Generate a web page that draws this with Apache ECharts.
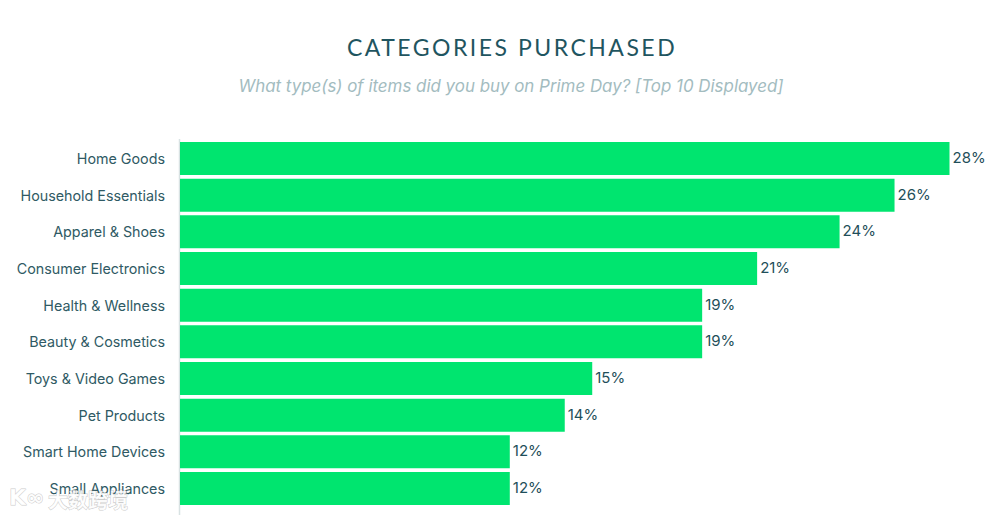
<!DOCTYPE html>
<html>
<head>
<meta charset="utf-8">
<style>html,body{margin:0;padding:0;background:#fff}#main{width:996px;height:520px}</style>
<script src="https://cdn.jsdelivr.net/npm/echarts@6/dist/echarts.min.js"></script>
</head>
<body>
<div id="main"></div>
<script>
var categories = ['Home Goods','Household Essentials','Apparel & Shoes','Consumer Electronics','Health & Wellness','Beauty & Cosmetics','Toys & Video Games','Pet Products','Smart Home Devices','Small Appliances'];
var values = [28,26,24,21,19,19,15,14,12,12];
var titleText = 'CATEGORIES PURCHASED';
var subtitleText = 'What type(s) of items did you buy on Prime Day? [Top 10 Displayed]';

var myChart = echarts.init(document.getElementById('main'), null, {renderer: 'svg'});
var font = 'Inter';

myChart.setOption({
	animation: false,
	backgroundColor: '#fff',
	title: [
		{text: titleText, left: 507, top: 30, textAlign: 'center',
			textStyle: {color: '#1f5560', fontFamily: 'Lato', fontSize: 23, fontWeight: 'normal'}},
		{text: subtitleText, left: 506, top: 72, textAlign: 'center',
			textStyle: {color: '#a3bcbf', fontFamily: font, fontSize: 16.9, fontStyle: 'italic', fontWeight: 'normal'}}
	],
	grid: {left: 180, right: 46.5, top: 140.2, height: 366.6},
	xAxis: {type: 'value', min: 0, max: 28, show: false},
	yAxis: {
		type: 'category',
		inverse: true,
		data: categories,
		axisLine: {show: false},
		axisTick: {show: false},
		axisLabel: {color: '#2f5a64', fontFamily: font, fontSize: 14.3, margin: 15, padding: [0, 0, 4, 0]}
	},
	series: [{
		type: 'bar',
		data: values,
		barWidth: 33,
		itemStyle: {color: '#00e56f'},
		label: {show: true, position: 'right', distance: 3, offset: [0, -1], formatter: '{c}%',
			color: '#1f4f5a', fontFamily: font, fontSize: 15}
	}],
	graphic: [
		{type: 'line', shape: {x1: 179.5, y1: 139, x2: 179.5, y2: 515}, style: {stroke: '#d8e2e3', lineWidth: 1.5}},
		{type: 'text', z: 100, x: 48, y: 489, style: {text: '大数跨境', fill: 'rgba(255,255,255,0.85)', stroke: 'rgba(120,120,120,0.4)', lineWidth: 1,
			font: 'bold 20px "Noto Sans CJK SC"'}},
		{type: 'text', z: 100, x: 9, y: 486, style: {text: 'K∞', fill: 'rgba(255,255,255,0.85)', stroke: 'rgba(120,120,120,0.4)', lineWidth: 1,
			font: 'bold 22px "DejaVu Sans"'}}
	]
});

// title is letter-spaced in the original
document.querySelectorAll('#main text').forEach(function(t){
	if (t.textContent === titleText) t.style.letterSpacing = '2.5px';
});
</script>
</body>
</html>
